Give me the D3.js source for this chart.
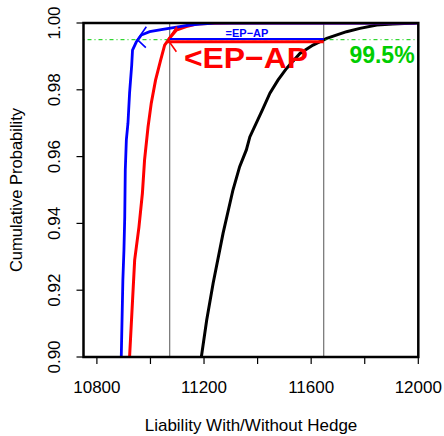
<!DOCTYPE html>
<html>
<head>
<meta charset="utf-8">
<script src="https://cdn.jsdelivr.net/npm/d3@7"></script>
<style>
  body { margin: 0; background: #fff; }
  svg { display: block; font-family: "Liberation Sans", Arial, sans-serif; }
</style>
</head>
<body>
<svg id="chart" width="444" height="436"></svg>
<script>
// ecdf curves: [liability, cumulative prob]
var blueCurve = [[10891,0.900],[10897,0.9231],[10901,0.9320],[10904,0.9419],[10906,0.9560],
  [10910,0.9650],[10916,0.9700],[10922,0.9790],[10930,0.9874],[10933,0.9919],[10947,0.9943],
  [10966,0.9964],[10997,0.9974],[11046,0.9981],[11109,0.9989],[11147,0.9994],[11184,0.9997],
  [11240,1.0],[12000,1.0]];
var redCurve = [[10922,0.900],[10941,0.9290],[10957,0.9389],[10970,0.9491],[10978,0.9590],
  [10991,0.9689],[11003,0.9760],[11019,0.9829],[11038,0.9889],[11053,0.9934],[11072,0.9955],
  [11097,0.9979],[11134,0.9989],[11172,0.9997],[11233,0.9999],[11296,1.0],[12000,1.0]];
var blackCurve = [[11190,0.900],[11210,0.9111],[11234,0.9221],[11271,0.9370],[11308,0.9500],
  [11333,0.9570],[11358,0.9620],[11371,0.9659],[11418,0.9740],[11446,0.9790],[11476,0.9829],
  [11508,0.9864],[11558,0.9909],[11607,0.9934],[11658,0.9954],[11732,0.9974],[11782,0.9984],
  [11845,0.9994],[11905,0.9997],[11990,1.0]];

var level = 0.995;
var vLines = [11072, 11647];            // red and black quantiles at 99.5%
var blueSeg = [11072, 11647, 0.9952];   // x0, x1, p
var redSeg = [11065, 11647, 0.9944];
var arrowTips = [[10951, 'blue'], [11065, 'red']];

var xTicks = [10800, 11000, 11200, 11400, 11600, 11800, 12000];
var xLabels = [10800, 11200, 11600, 12000];
var yTicks = [0.90, 0.92, 0.94, 0.96, 0.98, 1.00];

var svg = d3.select('#chart');
var pL = 83.5, pR = 418.3, pT = 23, pB = 357;

var x = d3.scaleLinear().domain([10750, 12000]).range([pL, pR]);
var y = d3.scaleLinear().domain([0.9, 1.0]).range([pB, pT]);

svg.append('clipPath').attr('id', 'clip')
  .append('rect').attr('x', pL).attr('y', pT)
  .attr('width', pR - pL).attr('height', pB - pT);

var plot = svg.append('g').attr('clip-path', 'url(#clip)');

// grey quantile lines
plot.selectAll('.vline').data(vLines).enter().append('line')
  .attr('x1', function(d){ return x(d); }).attr('x2', function(d){ return x(d); })
  .attr('y1', pT).attr('y2', pB)
  .style('stroke', '#555').style('stroke-width', 1);

var line = d3.line()
  .x(function(d){ return x(d[0]); })
  .y(function(d){ return y(d[1]); });

plot.append('path').datum(blackCurve).attr('d', line)
  .style('fill', 'none').style('stroke', '#000').style('stroke-width', 3);
plot.append('path').datum(redCurve).attr('d', line)
  .style('fill', 'none').style('stroke', '#ff0000').style('stroke-width', 3);
plot.append('path').datum(blueCurve).attr('d', line)
  .style('fill', 'none').style('stroke', '#0000ff').style('stroke-width', 2.8);

// 99.5% level
plot.append('line')
  .attr('x1', pL).attr('x2', pR)
  .attr('y1', y(level)).attr('y2', y(level))
  .style('stroke', '#00cd00').style('stroke-width', 1)
  .style('stroke-dasharray', '1,3,4,3');

plot.append('line')
  .attr('x1', x(redSeg[0])).attr('x2', x(redSeg[1]))
  .attr('y1', y(redSeg[2])).attr('y2', y(redSeg[2]))
  .style('stroke', '#ff0000').style('stroke-width', 3);
plot.append('line')
  .attr('x1', x(blueSeg[0])).attr('x2', x(blueSeg[1]))
  .attr('y1', y(blueSeg[2])).attr('y2', y(blueSeg[2]))
  .style('stroke', '#0000ff').style('stroke-width', 2);

// arrow heads pointing left at each curve
arrowTips.forEach(function(a){
  var tx = x(a[0]), ty = y(level);
  plot.append('path')
    .attr('d', 'M' + (tx + 9) + ',' + (ty - 13) + 'L' + tx + ',' + ty + 'L' + (tx + 8.5) + ',' + (ty + 8 + (a[1] == 'red' ? 4 : 0)))
    .style('fill', 'none').style('stroke', a[1]).style('stroke-width', 1.6);
});

// labels
svg.append('text').attr('x', 247).attr('y', 37).attr('text-anchor', 'middle')
  .style('font-size', '11px').style('font-weight', 'bold').style('fill', '#0000ff')
  .text('=EP\u2212AP');
svg.append('text').attr('x', 184).attr('y', 68)
  .attr('textLength', 124).attr('lengthAdjust', 'spacingAndGlyphs')
  .style('font-size', '29px').style('font-weight', 'bold').style('fill', '#ff0000')
  .text('<EP\u2212AP');
svg.append('text').attr('x', 382).attr('y', 63).attr('text-anchor', 'middle')
  .style('font-size', '23px').style('font-weight', 'bold').style('fill', '#00cd00')
  .text('99.5%');

// box
svg.append('rect').attr('x', pL).attr('y', pT)
  .attr('width', pR - pL).attr('height', pB - pT)
  .style('fill', 'none').style('stroke', '#000').style('stroke-width', 2.5);

// x axis
svg.selectAll('.xt').data(xTicks).enter().append('line')
  .attr('x1', function(d){ return x(d); }).attr('x2', function(d){ return x(d); })
  .attr('y1', pB).attr('y2', pB + 7)
  .style('stroke', '#000').style('stroke-width', 1.2);
svg.selectAll('.xl').data(xLabels).enter().append('text')
  .attr('x', function(d){ return x(d); }).attr('y', 393)
  .attr('text-anchor', 'middle').style('font-size', '17px')
  .text(function(d){ return d; });

// y axis
svg.selectAll('.yt').data(yTicks).enter().append('line')
  .attr('x1', pL - 7).attr('x2', pL)
  .attr('y1', function(d){ return y(d); }).attr('y2', function(d){ return y(d); })
  .style('stroke', '#000').style('stroke-width', 1.2);
svg.selectAll('.yl').data(yTicks).enter().append('text')
  .attr('transform', function(d){ return 'translate(60,' + y(d) + ') rotate(-90)'; })
  .attr('text-anchor', 'middle').style('font-size', '17px')
  .text(function(d){ return d.toFixed(2); });

svg.append('text').attr('x', 251).attr('y', 431).attr('text-anchor', 'middle')
  .style('font-size', '17px').text('Liability With/Without Hedge');
svg.append('text').attr('transform', 'translate(22,190) rotate(-90)')
  .attr('text-anchor', 'middle').style('font-size', '16.5px')
  .text('Cumulative Probability');
</script>
</body>
</html>
